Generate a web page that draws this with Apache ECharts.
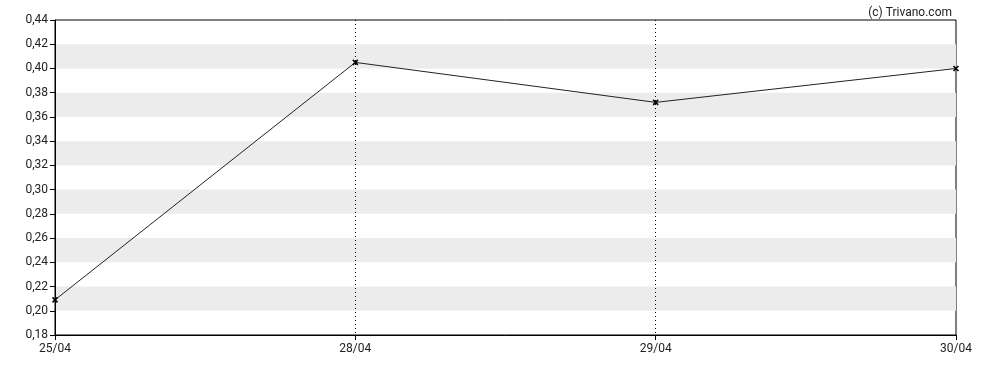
<!DOCTYPE html>
<html><head><meta charset="utf-8">
<script src="https://cdn.jsdelivr.net/npm/echarts@6/dist/echarts.min.js"></script>
<style>html,body{margin:0;padding:0;background:#fff}#c{width:988px;height:370px}</style>
</head><body><div id="c"></div>
<script>
var categories = ['25/04', '28/04', '29/04', '30/04'];
var values = [0.209, 0.405, 0.372, 0.400];
var yMin = 0.18, yMax = 0.44, yStep = 0.02;

var chart = echarts.init(document.getElementById('c'));
chart.setOption({
  animation: false,
  textStyle: { fontFamily: 'Roboto' },
  title: {
    text: '(c) Trivano.com', right: 31, top: 2,
    textStyle: { fontFamily: 'Roboto', fontSize: 12, fontWeight: 'normal', color: '#222' }
  },
  grid: { left: 55, right: 32, top: 20, bottom: 35, show: true, borderColor: '#000', borderWidth: 1, backgroundColor: 'transparent' },
  xAxis: {
    type: 'category', data: categories, boundaryGap: false,
    axisLine: { lineStyle: { color: '#000' } },
    axisTick: { show: true, length: 5, lineStyle: { color: '#000' } },
    axisLabel: { color: '#222', fontSize: 12, margin: 8 },
    splitLine: { show: true, interval: function (i) { return i > 0 && i < categories.length - 1; }, lineStyle: { color: '#000', type: [1, 3], width: 1 } }
  },
  yAxis: {
    type: 'value', min: yMin, max: yMax, interval: yStep,
    axisLine: { show: true, lineStyle: { color: '#000' } },
    axisTick: { show: true, length: 5, lineStyle: { color: '#000' } },
    axisLabel: { color: '#222', fontSize: 12, margin: 7, formatter: function (v) { return v.toFixed(2).replace('.', ','); } },
    splitLine: { show: false },
    splitArea: { show: true, areaStyle: { color: ['rgba(255,255,255,0)', '#ececec'] } }
  },
  series: [{
    type: 'line', data: values,
    symbol: 'path://M0,0 L10,10 M10,0 L0,10 M0,0 L10,10',
    symbolSize: 5,
    showAllSymbol: true,
    itemStyle: { color: '#000', borderColor: '#000', borderWidth: 1.5 },
    lineStyle: { color: '#222', width: 1 }
  }]
});
</script></body></html>
